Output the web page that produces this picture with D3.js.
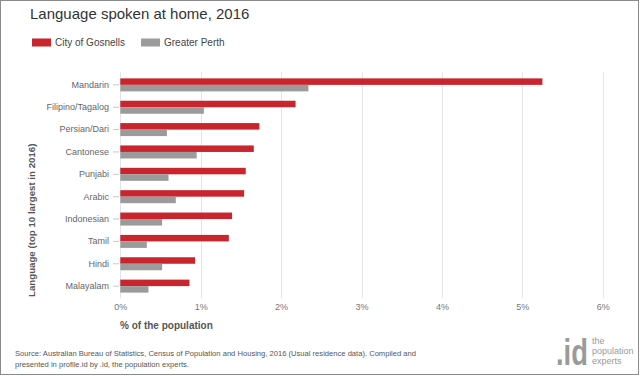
<!DOCTYPE html>
<html><head><meta charset="utf-8">
<script src="https://cdn.jsdelivr.net/npm/d3@7"></script>
<style>body{margin:0;background:#fff}svg{display:block;font-family:"Liberation Sans",Arial,sans-serif}</style>
</head><body>
<svg id="c" width="640" height="376"></svg>
<script>
const categories = ["Mandarin","Filipino/Tagalog","Persian/Dari","Cantonese","Punjabi","Arabic","Indonesian","Tamil","Hindi","Malayalam"];
const seriesNames = ["City of Gosnells","Greater Perth"];
const gosnells = [5.25,2.18,1.73,1.66,1.56,1.54,1.39,1.35,0.93,0.86];
const perth = [2.34,1.04,0.58,0.95,0.60,0.69,0.52,0.33,0.52,0.35];
const xTicks = [0,1,2,3,4,5,6];
const colors = ["#c9252e","#9b9b9b"];

const svg = d3.select("#c");
svg.append("rect").attr("x",0.5).attr("y",0.5).attr("width",638).attr("height",374)
  .attr("fill","#fff").attr("stroke","#8a8a8a");

svg.append("text").attr("x",30).attr("y",19).attr("font-size",15).attr("fill","#333")
  .text("Language spoken at home, 2016");

// legend
const leg = svg.append("g");
const legX = [32,141];
seriesNames.forEach((s,i)=>{
  leg.append("rect").attr("x",legX[i]).attr("y",38.5).attr("width",19).attr("height",8).attr("fill",colors[i]);
  leg.append("text").attr("x",legX[i]+23).attr("y",46).attr("font-size",10).attr("fill","#444").text(s);
});

const x = d3.scaleLinear().domain([0,6]).range([120.3,602.7]);
const y0 = d3.scaleBand().domain(categories).range([73.7,297.3]).paddingInner(0.418).paddingOuter(0.209);
const y1 = d3.scaleBand().domain(seriesNames).range([0,y0.bandwidth()]);

// gridlines
svg.append("g").selectAll("line").data(xTicks).join("line")
  .attr("x1",d=>Math.round(x(d))+0.5).attr("x2",d=>Math.round(x(d))+0.5)
  .attr("y1",72).attr("y2",298).attr("stroke","#e4e4e4");

// x axis labels
const xAxis = d3.axisBottom(x).tickValues(xTicks).tickFormat(d=>d+"%").tickSize(0).tickPadding(0);
const gx = svg.append("g").attr("transform","translate(0,304)").call(xAxis);
gx.select(".domain").remove();
gx.selectAll("text").attr("font-size",9).attr("fill","#777").attr("font-family","Liberation Sans, Arial, sans-serif");

// y axis
const yAxis = d3.axisLeft(y0).tickSize(6).tickPadding(4);
const gy = svg.append("g").attr("transform","translate(119,0)").call(yAxis);
gy.select(".domain").remove();
gy.selectAll(".tick line").attr("stroke","#c8c8c8");
gy.selectAll("text").attr("font-size",9).attr("fill","#666").attr("font-family","Liberation Sans, Arial, sans-serif");

// bars
const data = categories.map((c,i)=>({c, vals:[gosnells[i],perth[i]]}));
const g = svg.append("g");
data.forEach(d=>{
  seriesNames.forEach((s,j)=>{
    g.append("rect").attr("x",x(0)).attr("y",y0(d.c)+y1(s))
      .attr("width",x(d.vals[j])-x(0)).attr("height",y1.bandwidth())
      .attr("fill",colors[j]);
  });
});

svg.append("text").attr("x",120).attr("y",329).attr("font-size",10).attr("font-weight","bold").attr("fill","#555")
  .text("% of the population");
svg.append("text").attr("transform","translate(35,297) rotate(-90)").attr("font-size",9.7).attr("font-weight","bold").attr("fill","#555")
  .text("Language (top 10 largest in 2016)");

// source
const src = svg.append("text").attr("x",15).attr("font-size",7.6).attr("fill","#555");
src.append("tspan").attr("x",15).attr("y",356).text("Source: Australian Bureau of Statistics, Census of Population and Housing, 2016 (Usual residence data). Compiled and");
src.append("tspan").attr("x",15).attr("y",367).text("presented in profile.id by .id, the population experts.");

// logo
svg.append("text").attr("transform","translate(556,365) scale(0.74,1)").attr("font-size",37).attr("font-weight","bold").attr("fill","#9a9a9a")
  .text(".id");
const lg = svg.append("text").attr("font-size",9).attr("fill","#9a9a9a");
["the","population","experts"].forEach((t,i)=>lg.append("tspan").attr("x",592).attr("y",344+i*10).text(t));
</script>
</body></html>
